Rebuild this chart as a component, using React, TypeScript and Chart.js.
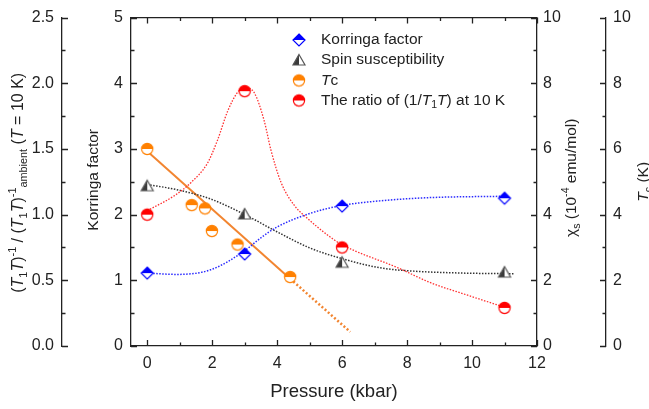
import React, { useEffect, useRef } from 'react';
import { Chart, registerables } from 'chart.js';
Chart.register(...registerables);

const FONT = "'Liberation Sans', Arial, Helvetica, sans-serif";

// ---- data ----
const korringaP = [0, 3, 6, 11];
const korringaV = [1.11, 1.40, 2.13, 2.25];
const chiP = [0, 3, 6, 11];
const chiV = [4.88, 4.02, 2.55, 2.25];
const tcP = [0, 1.37, 1.78, 1.99, 2.78, 4.40];
const tcV = [6.0, 4.29, 4.19, 3.50, 3.09, 2.10];
const ratioP = [0, 3, 6, 11];
const ratioV = [1.0, 1.94, 0.75, 0.29];

const ratioFitP = [0, 0.84, 1.35, 1.85, 2.16, 2.48, 2.78, 3.03, 3.29, 3.6, 3.81, 4.12, 4.53, 4.94, 5.55, 5.97, 7.72, 8.74, 9.76, 11];
const ratioFitV = [1.03, 1.145, 1.245, 1.39, 1.565, 1.79, 1.93, 1.965, 1.93, 1.715, 1.49, 1.245, 1.07, 0.97, 0.845, 0.775, 0.595, 0.48, 0.395, 0.295];
const korringaFitP = [0, 0.9, 1.95, 2.97, 3.48, 3.99, 5.02, 6.0, 7.17, 8.74, 11];
const korringaFitV = [1.11, 1.09, 1.16, 1.44, 1.64, 1.81, 2.02, 2.14, 2.21, 2.26, 2.28];
const chiFitP = [0, 0.91, 1.94, 2.97, 3.99, 5.02, 6.0, 7.17, 8.2, 9.74, 11.32];
const chiFitV = [4.92, 4.76, 4.48, 4.02, 3.48, 2.98, 2.66, 2.38, 2.28, 2.22, 2.2];
const tcFitSolidP = [0, 4.4];
const tcFitSolidV = [5.93, 2.05];
const tcFitDotP = [4.4, 6.25];
const tcFitDotV = [2.05, 0.43];

const xTicks = [0, 2, 4, 6, 8, 10, 12];
const ratioTicks = [0, 0.5, 1.0, 1.5, 2.0, 2.5];
const korringaTicks = [0, 1, 2, 3, 4, 5];
const chiTicks = [0, 2, 4, 6, 8, 10];
const tcTicks = [0, 2, 4, 6, 8, 10];

const BLUE = '#0000FF';
const GRAY = '#3a3a3a';
const ORANGE = '#FF8000';
const RED = '#FF0000';
const AXIS = '#222222';

const zip = (xs: number[], ys: number[]) => xs.map((x, i) => ({ x, y: ys[i] }));

type Seg = { t: string; s?: 'i' | 'sub' | 'sup' };

function segFont(seg: Seg, size: number) {
  const sz = seg.s === 'sub' || seg.s === 'sup' ? size * 0.68 : size;
  return `${seg.s === 'i' ? 'italic ' : ''}${sz}px ${FONT}`;
}
function measureRich(ctx: CanvasRenderingContext2D, segs: Seg[], size: number) {
  let w = 0;
  for (const s of segs) {
    ctx.font = segFont(s, size);
    w += ctx.measureText(s.t).width;
  }
  return w;
}
function drawRich(ctx: CanvasRenderingContext2D, segs: Seg[], size: number, x: number, y: number, align: 'left' | 'center') {
  let cx = align === 'center' ? x - measureRich(ctx, segs, size) / 2 : x;
  ctx.textBaseline = 'middle';
  ctx.textAlign = 'left';
  for (const s of segs) {
    ctx.font = segFont(s, size);
    let dy = 0;
    if (s.s === 'sub') dy = size * 0.3;
    if (s.s === 'sup') dy = -size * 0.35;
    ctx.fillText(s.t, cx, y + dy);
    cx += ctx.measureText(s.t).width;
  }
}

function makeMarker(kind: 'diamond' | 'triangle' | 'circle', color: string, fill: string) {
  const c = document.createElement('canvas');
  c.width = 16;
  c.height = 16;
  const g = c.getContext('2d')!;
  const path = () => {
    g.beginPath();
    if (kind === 'diamond') {
      g.moveTo(8, 2); g.lineTo(14, 8); g.lineTo(8, 14); g.lineTo(2, 8); g.closePath();
    } else if (kind === 'triangle') {
      g.moveTo(8, 2.5); g.lineTo(14, 13); g.lineTo(2, 13); g.closePath();
    } else {
      g.arc(8, 8, 5.6, 0, Math.PI * 2);
    }
  };
  path();
  g.fillStyle = '#fff';
  g.fill();
  g.save();
  g.beginPath();
  if (kind === 'triangle') g.rect(0, 0, 8, 16);
  else g.rect(0, 0, 16, 8);
  g.clip();
  path();
  g.fillStyle = fill;
  g.fill();
  g.restore();
  path();
  g.strokeStyle = color;
  g.lineWidth = 1.2;
  g.stroke();
  return c;
}

export default function App() {
  const ref = useRef<HTMLCanvasElement | null>(null);
  useEffect(() => {
    document.body.style.margin = '0';
    const canvas = ref.current!;
    const mDiamond = makeMarker('diamond', BLUE, BLUE);
    const mTri = makeMarker('triangle', '#555', GRAY);
    const mTc = makeMarker('circle', ORANGE, ORANGE);
    const mRatio = makeMarker('circle', RED, RED);

    const fixedTicks = (vals: number[]) => (scale: any) => {
      scale.ticks = vals.map((v) => ({ value: v }));
    };

    const yCommon = (pos: 'left' | 'right', weight: number, width: number, vals: number[], pad: number, fmt?: (v: number) => string) => ({
      type: 'linear' as const,
      position: pos,
      weight,
      min: vals[0],
      max: vals[vals.length - 1],
      afterBuildTicks: fixedTicks(vals),
      afterFit: (s: any) => { s.width = width; },
      grid: { display: true, drawOnChartArea: false, drawTicks: false },
      border: { display: true, color: AXIS, width: 1.3 },
      ticks: {
        padding: pad,
        color: AXIS,
        font: { family: FONT, size: 16 },
        callback: (v: any) => (fmt ? fmt(Number(v)) : String(v)),
      },
    });

    const fitLine = (data: any[], axis: string, color: string, dash: number[], width: number) => ({
      type: 'line' as const,
      data,
      yAxisID: axis,
      borderColor: color,
      borderWidth: width,
      borderDash: dash,
      pointRadius: 0,
      fill: false,
      cubicInterpolationMode: 'monotone' as const,
      order: 2,
    });
    const pts = (data: any[], axis: string, img: HTMLCanvasElement) => ({
      type: 'scatter' as const,
      data,
      yAxisID: axis,
      pointStyle: img,
      pointRadius: 6,
      showLine: false,
      order: 1,
    });

    const overlay = {
      id: 'overlay',
      afterDraw(chart: any) {
        const ctx: CanvasRenderingContext2D = chart.ctx;
        const ca = chart.chartArea;
        const sx = chart.scales.x;
        const sR = chart.scales.yR;
        const sK = chart.scales.yK;
        const sC = chart.scales.yC;
        const sT = chart.scales.yT;
        ctx.save();
        ctx.strokeStyle = AXIS;
        ctx.lineWidth = 1.3;
        // top border
        ctx.beginPath();
        ctx.moveTo(ca.left, ca.top);
        ctx.lineTo(ca.right, ca.top);
        ctx.stroke();
        // ticks
        ctx.beginPath();
        const yt = (scale: any, lineX: number, dir: number, major: number, minor: number) => {
          for (let v = scale.min; v <= scale.max + 1e-9; v += minor) {
            const r = v / major;
            const isMajor = Math.abs(r - Math.round(r)) < 1e-6;
            const len = isMajor ? 6 : 3.5;
            const y = Math.round(scale.getPixelForValue(v)) + 0.5;
            ctx.moveTo(lineX, y);
            ctx.lineTo(lineX + dir * len, y);
          }
        };
        yt(sR, sR.right, 1, 0.5, 0.25);
        yt(sK, sK.right, 1, 1, 0.5);
        yt(sC, sC.left, -1, 2, 1);
        yt(sT, sT.left, -1, 2, 1);
        for (let v = 0; v <= 12; v += 1) {
          const len = v % 2 === 0 ? 6 : 3.5;
          const x = Math.round(sx.getPixelForValue(v)) + 0.5;
          ctx.moveTo(x, ca.bottom);
          ctx.lineTo(x, ca.bottom - len);
          ctx.moveTo(x, ca.top);
          ctx.lineTo(x, ca.top + len);
        }
        ctx.stroke();

        // titles
        ctx.fillStyle = AXIS;
        drawRich(ctx, [{ t: 'Pressure (kbar)' }], 18.5, (ca.left + ca.right) / 2, 392, 'center');
        const midY = (ca.top + ca.bottom) / 2;
        const vert = (x: number, y: number, segs: Seg[], size: number) => {
          ctx.save();
          ctx.translate(x, y);
          ctx.rotate(-Math.PI / 2);
          drawRich(ctx, segs, size, 0, 0, 'center');
          ctx.restore();
        };
        vert(94, midY - 2, [{ t: 'Korringa factor' }], 15.5);
        vert(19, midY + 1, [
          { t: '(' }, { t: 'T', s: 'i' }, { t: '1', s: 'sub' }, { t: 'T', s: 'i' }, { t: ')' }, { t: '-1', s: 'sup' },
          { t: ' / (' }, { t: 'T', s: 'i' }, { t: '1', s: 'sub' }, { t: 'T', s: 'i' }, { t: ')' }, { t: '-1', s: 'sup' },
          { t: 'ambient', s: 'sub' }, { t: ' (' }, { t: 'T', s: 'i' }, { t: ' = 10 K)' },
        ], 16);
        vert(572, midY - 4, [{ t: 'χ' }, { t: 's', s: 'sub' }, { t: ' (10' }, { t: '-4', s: 'sup' }, { t: ' emu/mol)' }], 15.5);
        vert(644, midY, [{ t: 'T', s: 'i' }, { t: 'c', s: 'sub' }, { t: ' (K)' }], 15.5);

        // legend
        const lx = 299;
        const tx = 321;
        const rows: [HTMLCanvasElement, Seg[], number][] = [
          [mDiamond, [{ t: 'Korringa factor' }], 40],
          [mTri, [{ t: 'Spin susceptibility' }], 60],
          [mTc, [{ t: 'T', s: 'i' }, { t: 'c' }], 80.5],
          [mRatio, [{ t: 'The ratio of (1/' }, { t: 'T', s: 'i' }, { t: '1', s: 'sub' }, { t: 'T', s: 'i' }, { t: ') at 10 K' }], 100.5],
        ];
        for (const [img, segs, y] of rows) {
          ctx.drawImage(img, lx - 8, y - 8);
          drawRich(ctx, segs, 15.5, tx, y, 'left');
        }
        ctx.restore();
      },
    };

    const chart = new Chart(canvas, {
      type: 'scatter',
      data: {
        datasets: [
          fitLine(zip(ratioFitP, ratioFitV), 'yR', '#FF3030', [1.5, 1.5], 1.3),
          fitLine(zip(korringaFitP, korringaFitV), 'yK', '#2a2aff', [1.5, 1.5], 1.5),
          fitLine(zip(chiFitP, chiFitV), 'yC', '#333333', [1.5, 1.5], 1.5),
          { ...fitLine(zip(tcFitSolidP, tcFitSolidV), 'yT', '#F28530', [], 2), cubicInterpolationMode: 'default' as const },
          { ...fitLine(zip(tcFitDotP, tcFitDotV), 'yT', '#F28530', [2, 2.2], 2.5), cubicInterpolationMode: 'default' as const },
          pts(zip(korringaP, korringaV), 'yK', mDiamond),
          pts(zip(chiP, chiV), 'yC', mTri),
          pts(zip(tcP, tcV), 'yT', mTc),
          pts(zip(ratioP, ratioV), 'yR', mRatio),
        ] as any,
      },
      options: {
        responsive: false,
        animation: false,
        devicePixelRatio: 1,
        layout: { padding: { top: 12, left: 0, right: 0, bottom: 0 } },
        plugins: { legend: { display: false }, tooltip: { enabled: false } },
        scales: {
          x: {
            type: 'linear',
            position: 'bottom',
            min: -0.5,
            max: 12,
            afterBuildTicks: fixedTicks(xTicks),
            afterFit: (s: any) => { s.height = 63; },
            grid: { display: true, drawOnChartArea: false, drawTicks: false },
            border: { display: true, color: AXIS, width: 1.3 },
            ticks: { padding: 8, color: AXIS, font: { family: FONT, size: 16 }, maxRotation: 0 },
          },
          yR: yCommon('left', 2, 62, ratioTicks, 8, (v) => v.toFixed(1)),
          yK: yCommon('left', 1, 69, korringaTicks, 8),
          yC: yCommon('right', 1, 69, chiTicks, 6),
          yT: yCommon('right', 2, 43, tcTicks, 7),
        } as any,
      },
      plugins: [overlay],
    });
    return () => chart.destroy();
  }, []);
  return <canvas ref={ref} width={649} height={409} style={{ display: 'block', width: 649, height: 409 }} />;
}
